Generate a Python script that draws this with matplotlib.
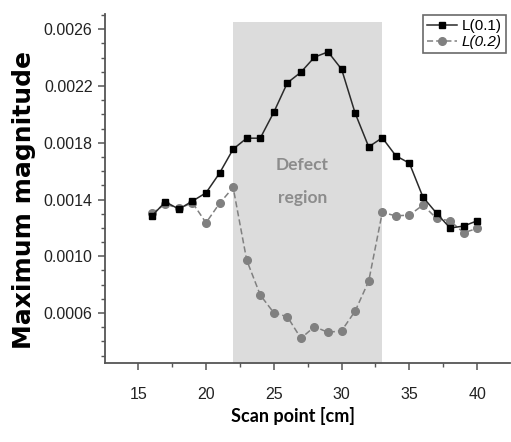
import matplotlib
matplotlib.use("Agg")
from matplotlib import pyplot as plt
from matplotlib.ticker import MultipleLocator, FixedLocator
import numpy as np

# scan points (cm)
scan_point = list(range(16, 41))

# maximum magnitude
l01 = [0.001283, 0.001384, 0.001332, 0.001389, 0.001447, 0.001586, 0.001755,
       0.001832, 0.001832, 0.002015, 0.002222, 0.002297, 0.002403, 0.002440,
       0.002318, 0.002008, 0.001771, 0.001835, 0.001708, 0.001656, 0.001417,
       0.001304, 0.001199, 0.001213, 0.001250]
l02 = [0.001302, 0.001368, 0.001337, 0.001377, 0.001236, 0.001373, 0.001485,
       0.000973, 0.000727, 0.000602, 0.000574, 0.000422, 0.000504, 0.000464,
       0.000475, 0.000614, 0.000825, 0.001309, 0.001285, 0.001290, 0.001361,
       0.001267, 0.001250, 0.001166, 0.001196]

series_labels = ["L(0.1)", "L(0.2)"]
y_ticks = [0.0006, 0.0010, 0.0014, 0.0018, 0.0022, 0.0026]
x_ticks = [15, 20, 25, 30, 35, 40]
defect_start, defect_end = 22, 33

tickfont = "Liberation Sans"

fig = plt.figure(figsize=(5.11, 4.42), dpi=100)
ax = fig.add_axes([0.2055, 0.1787, 0.792, 0.7893])

ax.set_xlim(12.55, 42.4)
ax.set_ylim(0.000248, 0.002706)

# defect region shading
ax.fill_between([defect_start, defect_end], 0, 0.002649, color="#dcdcdc",
                linewidth=0, zorder=0)
ax.text(27.1, 0.00153, "Defect\nregion", ha="center", va="center",
        color="#8c8c8c", fontsize=12.5, fontweight="bold", family="Lato",
        linespacing=2.3)

ax.plot(scan_point, l01, color="#2a2a2a", lw=1.1, marker="s", ms=5,
        mfc="black", mec="black", label=series_labels[0], zorder=3)
ax.plot(scan_point, l02, color="#808080", lw=1.1, ls=(0, (4, 2)), marker="o",
        ms=5.5, mfc="#808080", mec="#808080", label=series_labels[1], zorder=2)

ax.spines["top"].set_visible(False)
ax.spines["right"].set_visible(False)
for s in ("left", "bottom"):
    ax.spines[s].set_color("#555555")
    ax.spines[s].set_linewidth(1.3)

ax.yaxis.set_major_locator(FixedLocator(y_ticks))
ax.yaxis.set_minor_locator(MultipleLocator(0.0001))
ax.xaxis.set_major_locator(FixedLocator(x_ticks))
ax.xaxis.set_minor_locator(MultipleLocator(2.5))
ax.set_yticklabels([f"{v:.4f}" for v in y_ticks])
ax.tick_params(which="major", length=5, width=1.1, color="#555555",
               labelsize=11.5, labelcolor="#222222")
ax.tick_params(axis="y", which="major", pad=4)
ax.tick_params(axis="x", which="major", pad=12)
ax.tick_params(which="minor", length=3, width=1.0, color="#555555")
for lab in ax.get_xticklabels() + ax.get_yticklabels():
    lab.set_family(tickfont)

ax.set_ylabel("Maximum magnitude", fontsize=18, fontweight="bold",
              family="DejaVu Sans")
ax.yaxis.set_label_coords(-0.17, 0.467)
ax.set_xlabel("Scan point [cm]", fontsize=13, fontweight="bold", family="Lato")
ax.xaxis.set_label_coords(0.465, -0.125)

leg = ax.legend(loc="upper right", bbox_to_anchor=(0.99, 0.997), frameon=True,
                fancybox=False, handlelength=2.0, handletextpad=0.3,
                borderpad=0.25, labelspacing=0.15, borderaxespad=0.0,
                prop={"family": tickfont, "size": 11})
leg.get_frame().set_edgecolor("#444444")
leg.get_frame().set_linewidth(1.2)
leg.get_texts()[1].set_style("italic")

fig.savefig("out.png", dpi=100)
